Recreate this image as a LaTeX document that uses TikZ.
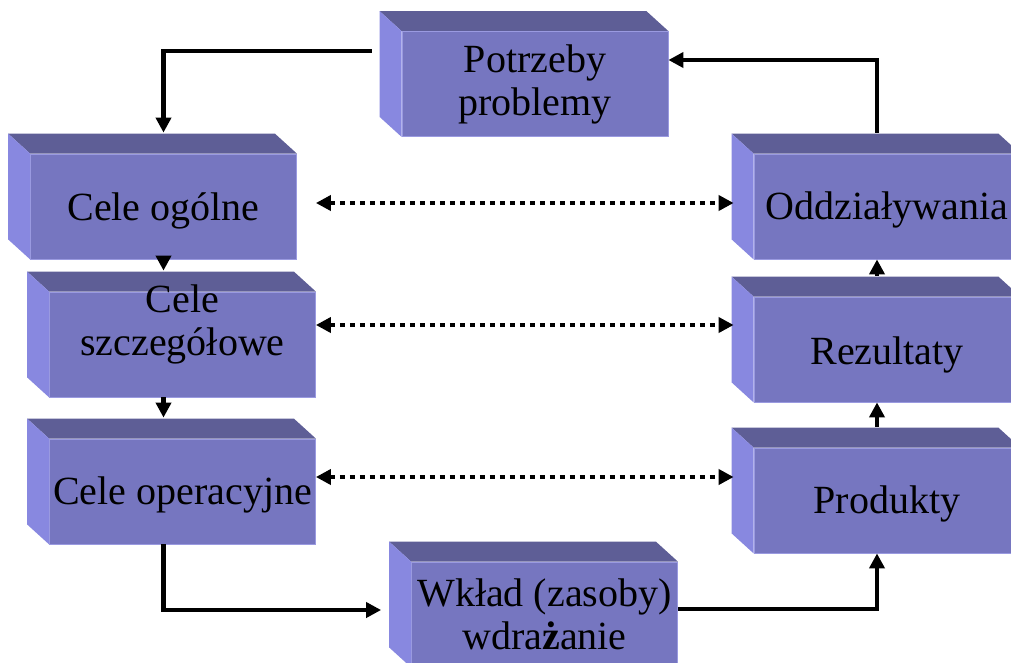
\documentclass[tikz,border=0pt]{standalone}
\usepackage{fontspec}
\setmainfont{Liberation Serif}
\usetikzlibrary{arrows.meta,backgrounds}
\definecolor{frontc}{HTML}{7676C0}
\definecolor{topc}{HTML}{5E5E96}
\definecolor{sidec}{HTML}{8888E0}
\definecolor{edgec}{HTML}{9A9AE0}
% move a block's text without changing the space it takes
\newcommand{\nudge}[2]{\raisebox{#1}[\height][\depth]{#2}}
\begin{document}
\begin{tikzpicture}[x=1pt,y=-1pt,
  box/.style={rectangle, fill=frontc, draw=edgec, line width=0.8pt,
    minimum width=266pt, minimum height=105pt, inner sep=0pt, align=center,
    font=\fontsize{40}{43}\selectfont},
  arr/.style={line width=4.6pt, -{Triangle[length=15pt,width=15pt]}},
  dotarr/.style={line width=4.6pt, dash pattern=on 4.6pt off 5.4pt,
    {Triangle[length=15pt,width=15pt]}-{Triangle[length=15pt,width=15pt]}}]
\useasboundingbox (0,0) rectangle (1011,662);
\clip (0,0) rectangle (1011,662);

% front faces of the blocks
\node[box] (pot)  at (535,84)      {Potrzeby\\problemy};
\node[box] (og)   at (163.5,206.5) {\nudge{-4pt}{Cele ogólne}};
\node[box] (sz)   at (182.5,344.5) {\nudge{19pt}{\begin{tabular}{@{}c@{}}Cele\\szczegółowe\end{tabular}}};
\node[box] (op)   at (182.5,491.5) {\nudge{-3pt}{Cele operacyjne}};
\node[box] (odd)  at (887,206.5)   {\nudge{-3pt}{Oddziaływania}};
\node[box] (rez)  at (887,349.5)   {\nudge{-5pt}{Rezultaty}};
\node[box] (prod) at (887,500.5)   {\nudge{-3pt}{Produkty}};
\node[box] (wk)   at (544.5,614.5) {Wkład (zasoby)\\wdra\textbf{ż}anie};

% top and left faces give the blocks depth
\begin{scope}[on background layer]
\foreach \n in {pot,og,sz,op,odd,rez,prod,wk}{
  \fill[topc] (\n.north west) -- ++(-22pt,20pt)
    -- ([shift={(-22pt,20pt)}]\n.north east) -- (\n.north east) -- cycle;
  \fill[sidec] (\n.north west) -- ++(-22pt,20pt)
    -- ([shift={(-22pt,20pt)}]\n.south west) -- (\n.south west) -- cycle;
}
\end{scope}

% flow of the cycle
\draw[arr] ([xshift=-30pt,yshift=33pt]pot.west) -| ([yshift=21pt]og.north);
\draw[arr] (og.south) -- ([yshift=21pt]sz.north -| og.south);
\draw[arr] (sz.south -| og.south) -- ([yshift=21pt]op.north -| og.south);
\draw[arr] (op.south -| og.south) |- ([xshift=-30pt,yshift=4.5pt]wk.west);
\draw[arr] ([yshift=5.5pt]wk.east) -| ([xshift=-10pt]prod.south);
\draw[arr] ([xshift=-10pt,yshift=21pt]prod.north) -- ([xshift=-10pt]rez.south);
\draw[arr] ([xshift=-10pt,yshift=21pt]rez.north) -- ([xshift=-10pt]odd.south);
\draw[arr] ([xshift=-10pt,yshift=21pt]odd.north) |- ([yshift=24pt]pot.east);

% correspondences between objectives and effects
\draw[dotarr, shorten >=20pt] ([yshift=3.5pt]og.east -| sz.east) -- ([yshift=3.5pt]og.east -| odd.west);
\draw[dotarr, shorten >=20pt] ([yshift=19.5pt]sz.east) -- ([yshift=19.5pt]sz.east -| rez.west);
\draw[dotarr, shorten >=20pt] ([yshift=14.5pt]op.east) -- ([yshift=14.5pt]op.east -| prod.west);
\end{tikzpicture}
\end{document}
